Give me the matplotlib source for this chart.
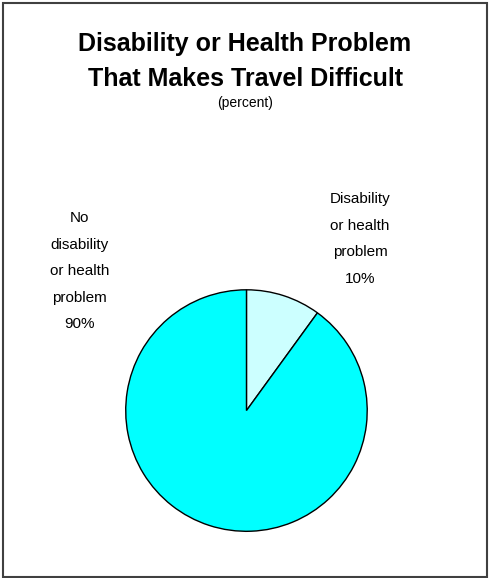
import matplotlib.pyplot as plt
from matplotlib.patches import Rectangle

plt.rcParams['font.family'] = ['Liberation Sans', 'DejaVu Sans']

labels = ['Disability\nor health\nproblem', 'No\ndisability\nor health\nproblem']
values = [10, 90]
colors = ['#CCFFFF', '#00FFFF']

fig = plt.figure(figsize=(4.9, 5.78), dpi=100)

# outer frame
fig.patches.append(Rectangle((0.006, 0.002), 0.988, 0.993, transform=fig.transFigure,
                             fill=False, edgecolor='#404040', linewidth=1.5))

fig.text(0.5, 0.894, 'Disability or Health Problem\nThat Makes Travel Difficult',
         ha='center', va='center', fontsize=18, fontweight='bold', linespacing=1.6)
fig.text(0.5, 0.822, '(percent)', ha='center', va='center', fontsize=10)

ax = fig.add_axes([0.254, 0.0787, 0.498, 0.422])
ax.pie(values, colors=colors, startangle=90, counterclock=False,
       wedgeprops={'edgecolor': 'black', 'linewidth': 1})
ax.set_xlim(-1.01, 1.01)
ax.set_ylim(-1.01, 1.01)
ax.axis('off')

label_pos = [(0.735, 0.5865), (0.163, 0.531)]
for (x, y), lab, v in zip(label_pos, labels, values):
    fig.text(x, y, f'{lab}\n{v}%', ha='center', va='center', fontsize=11, linespacing=2.13)

fig.savefig('out.png', dpi=100)
